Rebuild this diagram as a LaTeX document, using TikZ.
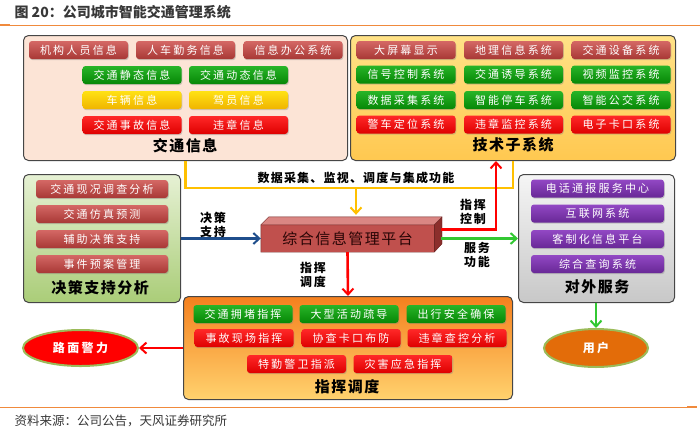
\documentclass[tikz,border=0pt]{standalone}
\usepackage{fontspec}
\setmainfont{Noto Sans CJK SC}
\newfontfamily\btnfont[LetterSpace=20]{Noto Sans CJK SC}
\newfontfamily\lblfont[LetterSpace=10]{Noto Sans CJK SC}
\newfontfamily\arrfont[LetterSpace=15]{Noto Sans CJK SC}
\usetikzlibrary{arrows.meta,shadows,shapes.geometric}
\definecolor{mredT}{RGB}{212,104,101}
\definecolor{mredB}{RGB}{168,56,53}
\definecolor{grnT}{RGB}{40,180,40}
\definecolor{grnB}{RGB}{6,135,6}
\definecolor{yelT}{RGB}{255,226,20}
\definecolor{yelB}{RGB}{240,180,0}
\definecolor{redT}{RGB}{255,40,40}
\definecolor{redB}{RGB}{222,0,0}
\definecolor{purT}{RGB}{146,72,196}
\definecolor{purB}{RGB}{104,40,150}
\definecolor{peach}{RGB}{252,228,214}
\definecolor{edge}{RGB}{70,70,70}
\definecolor{yline}{RGB}{255,192,0}
\definecolor{arrred}{RGB}{255,0,0}
\definecolor{arrgrn}{RGB}{50,200,50}
\definecolor{arrblue}{RGB}{31,78,140}
\definecolor{orgline}{RGB}{240,138,60}
\definecolor{titlegray}{RGB}{55,55,55}
\definecolor{platF}{RGB}{192,80,77}
\definecolor{platT}{RGB}{218,134,131}
\definecolor{platS}{RGB}{140,46,44}
\definecolor{plattext}{RGB}{40,5,5}
\definecolor{ringgrn}{RGB}{155,187,89}
\definecolor{userorg}{RGB}{227,108,9}
\definecolor{techT}{RGB}{255,226,135}
\definecolor{techB}{RGB}{255,200,80}
\begin{document}
\begin{tikzpicture}[x=1pt,y=-1pt,
  btn/.style={rounded corners=3pt, minimum width=99pt, minimum height=18pt, inner sep=0pt,
    text=white, font=\btnfont\fontsize{11}{12}\selectfont,
    drop shadow={shadow xshift=0.8pt,shadow yshift=-1.2pt,opacity=0.35}},
  mred/.style={btn, top color=mredT, bottom color=mredB},
  grn/.style={btn, top color=grnT, bottom color=grnB},
  yel/.style={btn, top color=yelT, bottom color=yelB},
  rd/.style={btn, top color=redT, bottom color=redB},
  pur/.style={btn, top color=purT, bottom color=purB},
  panel/.style={draw=edge, line width=1pt, rounded corners=5pt, anchor=north west, inner sep=0pt},
  lbl/.style={font=\lblfont\bfseries\fontsize{15}{16}\selectfont, text=black},
  alabel/.style={font=\arrfont\bfseries\fontsize{12}{14}\selectfont, align=center, text=black},
  arr/.style={line width=2.6pt, -{Straight Barb[length=6pt,width=11pt,line width=2pt]}},
  ell/.style={ellipse, draw=ringgrn, line width=2pt, text=white, inner sep=0pt,
    font=\btnfont\bfseries\fontsize{12}{13}\selectfont}
]
\useasboundingbox (0,0) rectangle (700,434);
% header and footer
\node[anchor=west, text=titlegray, font=\bfseries\fontsize{14}{16}\selectfont] (title) at (11,12) {图 20：公司城市智能交通管理系统};
\draw[orgline, line width=1pt] (0,25) -- (700,25);
\draw[orgline, line width=2pt] (0,25) -- (10,25);
\draw[orgline, line width=1pt] (0,407) -- (697,407);
\draw[orgline, line width=2.2pt] (687,407) -- (697,407);
\node[anchor=west, text=titlegray, font=\fontsize{12.5}{14}\selectfont] (src) at (11,421) {资料来源：公司公告，天风证券研究所};

% 交通信息 panel
\node[panel, fill=peach, minimum width=324pt, minimum height=125pt] (tbox) at (23,35) {};
\node[mred] (t1) at (78.5,50) {机构人员信息};
\node[mred] (t2) at (185.5,50) {人车勤务信息};
\node[mred] (t3) at (293,50) {信息办公系统};
\node[grn] (t4) at (132,75) {交通静态信息};
\node[grn] (t5) at (238.5,75) {交通动态信息};
\node[yel] (t6) at (132,100) {车辆信息};
\node[yel] (t7) at (238.5,100) {驾员信息};
\node[rd] (t8) at (132,125) {交通事故信息};
\node[rd] (t9) at (238.5,125) {违章信息};
\node[lbl] (tl) at (185,146) {交通信息};

% 技术子系统 panel
\node[panel, top color=techT, bottom color=techB, minimum width=325pt, minimum height=125pt] (tech) at (350,35) {};
\node[mred] (s1) at (406,50) {大屏幕显示};
\node[mred] (s2) at (513.5,50) {地理信息系统};
\node[mred] (s3) at (621,50) {交通设备系统};
\node[grn] (s4) at (406,74.5) {信号控制系统};
\node[grn] (s5) at (513.5,74.5) {交通诱导系统};
\node[grn] (s6) at (621,74.5) {视频监控系统};
\node[grn] (s7) at (406,100) {数据采集系统};
\node[grn] (s8) at (513.5,100) {智能停车系统};
\node[grn] (s9) at (621,100) {智能公交系统};
\node[rd] (s10) at (406,124.5) {警车定位系统};
\node[rd] (s11) at (513.5,124.5) {违章监控系统};
\node[rd] (s12) at (621,124.5) {电子卡口系统};
\node[lbl] (sl) at (513,145) {技术子系统};

% 决策支持分析 panel
\node[panel, top color={rgb,255:red,230;green,241;blue,212}, bottom color={rgb,255:red,170;green,205;blue,120}, minimum width=157pt, minimum height=128pt] (dec) at (23,174) {};
\node[mred, minimum width=132pt] (d1) at (102,189) {交通现况调查分析};
\node[mred, minimum width=132pt] (d2) at (102,214) {交通仿真预测};
\node[mred, minimum width=132pt] (d3) at (102,239) {辅助决策支持};
\node[mred, minimum width=132pt] (d4) at (102,264) {事件预案管理};
\node[lbl] (dl) at (100,288) {决策支持分析};

% 对外服务 panel
\node[panel, top color={rgb,255:red,245;green,245;blue,245}, bottom color={rgb,255:red,200;green,200;blue,200}, minimum width=156pt, minimum height=128pt] (serv) at (518,174) {};
\node[pur, minimum width=133pt] (v1) at (597.5,188.5) {电话通报服务中心};
\node[pur, minimum width=133pt] (v2) at (597.5,213.5) {互联网系统};
\node[pur, minimum width=133pt] (v3) at (597.5,239) {客制化信息平台};
\node[pur, minimum width=133pt] (v4) at (597.5,264) {综合查询系统};
\node[lbl] (vl) at (597,287) {对外服务};

% 指挥调度 panel
\node[panel, top color={rgb,255:red,245;green,128;blue,30}, bottom color={rgb,255:red,255;green,210;blue,110}, minimum width=329pt, minimum height=103pt] (cmd) at (183,296) {};
\node[grn] (c1) at (243,314) {交通拥堵指挥};
\node[grn] (c2) at (349,314) {大型活动疏导};
\node[grn] (c3) at (456,314) {出行安全确保};
\node[rd] (c4) at (244,338) {事故现场指挥};
\node[rd] (c5) at (351,338) {协查卡口布防};
\node[rd] (c6) at (457,338) {违章查控分析};
\node[rd] (c7) at (296.5,364) {特勤警卫指派};
\node[rd] (c8) at (403,364) {灾害应急指挥};
\node[lbl] (cl) at (347,387) {指挥调度};

% platform (3D box)
\node[fill=platF, minimum width=173pt, minimum height=27pt, inner sep=0pt,
  text=plattext, font=\lblfont\fontsize{15}{16}\selectfont] (plat) at (347.5,238.5) {综合信息管理平台};
\fill[platT] (plat.north west) -- ++(8,-8) -- ++(173,0) -- (plat.north east) -- cycle;
\fill[platS] (plat.north east) -- ++(8,-8) -- ++(0,27) -- (plat.south east) -- cycle;
\draw[platS!80!black, line width=0.4pt] (plat.north west) -- ++(8,-8) -- ++(173,0) -- ++(0,27) -- (plat.south east) -- (plat.south west) -- cycle;
\draw[platS!80!black, line width=0.4pt] (plat.north west) -- (plat.north east) -- ++(8,-8);
\draw[platS!80!black, line width=0.4pt] (plat.north east) -- (plat.south east);

% ellipses
\node[ell, fill=arrred, minimum width=115pt, minimum height=36pt] (police) at (80.5,348) {路面警力};
\node[ell, fill=userorg, minimum width=104pt, minimum height=38pt] (user) at (596,348) {用户};

% connectors
\coordinate (ymid) at (356,188);
\draw[yline, line width=2.6pt] (tbox.south) -- (tbox.south |- ymid) -- (tech.south |- ymid) -- (tech.south);
\draw[yline, arr] (ymid) -- ([yshift=10pt]plat.north -| ymid);
\node[alabel, font=\lblfont\bfseries\fontsize{12}{14}\selectfont] (datalbl) at (356,178) {数据采集、监视、调度与集成功能};

\draw[arrblue, arr] (dec.east |- plat.west) -- (plat.west);
\node[alabel] (l1) at (213,225) {决策\\支持};

\draw[arrred, arr] ([xshift=7pt,yshift=9pt]plat.east) -| ([xshift=-17pt]tech.south);
\node[alabel] (l2) at (473,212) {指挥\\控制};

\draw[arrgrn, arr] ([xshift=7pt]plat.east) -- (serv.west |- plat.east);
\node[alabel] (l3) at (477,255) {服务\\功能};

\draw[arrred, arr] (plat.south) -- (cmd.north);
\node[alabel] (l4) at (313,275) {指挥\\调度};

\draw[arrred, arr] (cmd.west |- police.east) -- (police.east);
\draw[arrgrn, arr] (serv.south -| user.north) -- (user.north);
\end{tikzpicture}
\end{document}
